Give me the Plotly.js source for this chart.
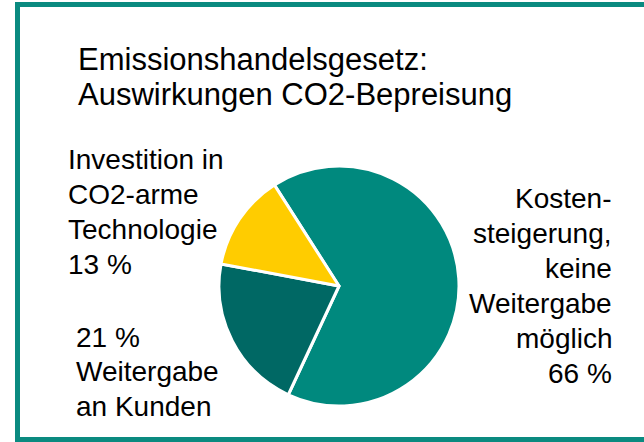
<!DOCTYPE html>
<html>
<head>
<meta charset="utf-8">
<script src="https://cdn.plot.ly/plotly-3.0.1.min.js"></script>
<style>
  html, body { margin: 0; padding: 0; background: #fff; }
  #chart { width: 644px; height: 442px; }
</style>
</head>
<body>
<div id="chart"></div>
<script>
// slices, in clockwise order from the top-left edge
var categories = ['Kostensteigerung, keine Weitergabe möglich', 'Weitergabe an Kunden', 'Investition in CO2-arme Technologie'];
var shares = [66, 21, 13];
var sliceColors = ['#00897e', '#006864', '#ffcc00'];

var titleLines = ['Emissionshandelsgesetz:', 'Auswirkungen CO2-Bepreisung'];
var labelCost = ['Kosten-', 'steigerung,', 'keine', 'Weitergabe', 'möglich'];
var labelPass = ['Weitergabe', 'an Kunden'];
var labelInvest = ['Investition in', 'CO2-arme', 'Technologie'];

var W = 644, H = 442;
var px = function (x) { return x / W; };
var py = function (y) { return 1 - y / H; };

var font = 'Liberation Sans, Arial, sans-serif';

var pieTrace = {
    type: 'pie',
    labels: categories,
    values: shares,
    sort: false,
    direction: 'clockwise',
    rotation: -32.6,
    textinfo: 'none',
    hoverinfo: 'none',
    marker: {
        colors: sliceColors,
        line: { color: '#ffffff', width: 3 }
    },
    domain: {
        x: [px(219), px(459)],
        y: [py(406), py(166)]
    }
};

// one annotation per line, so the line pitch can follow the picture
var textBlock = function (lines, x, firstBaseline, size, pitch, xanchor) {
    return lines.map(function (line, i) {
        var top = firstBaseline + i * pitch - 0.905 * size - 1;
        return {
            text: line,
            xref: 'paper', yref: 'paper',
            x: px(x), y: py(top),
            xanchor: xanchor, yanchor: 'top',
            showarrow: false,
            font: { family: font, size: size, color: '#000000' }
        };
    });
};

var annotations = [].concat(
    textBlock(titleLines, 76, 69, 31, 35, 'left'),
    textBlock(labelInvest.concat([shares[2] + ' %']), 66, 168, 28, 35, 'left'),
    textBlock([shares[1] + ' %'].concat(labelPass), 74, 346, 28, 34.7, 'left'),
    textBlock(labelCost.concat([shares[0] + ' %']), 614, 207, 28, 35, 'right')
);

var layout = {
    width: W,
    height: H,
    margin: { l: 0, r: 0, t: 0, b: 0 },
    paper_bgcolor: '#ffffff',
    showlegend: false,
    font: { family: font },
    annotations: annotations,
    shapes: [{
        type: 'rect',
        xref: 'paper', yref: 'paper',
        x0: px(17.5), x1: px(660),
        y0: py(439.5), y1: py(4.5),
        line: { color: '#0a8a80', width: 5 },
        fillcolor: 'rgba(0,0,0,0)'
    }]
};

Plotly.newPlot('chart', [pieTrace], layout, { staticPlot: true, displayModeBar: false });
</script>
</body>
</html>
